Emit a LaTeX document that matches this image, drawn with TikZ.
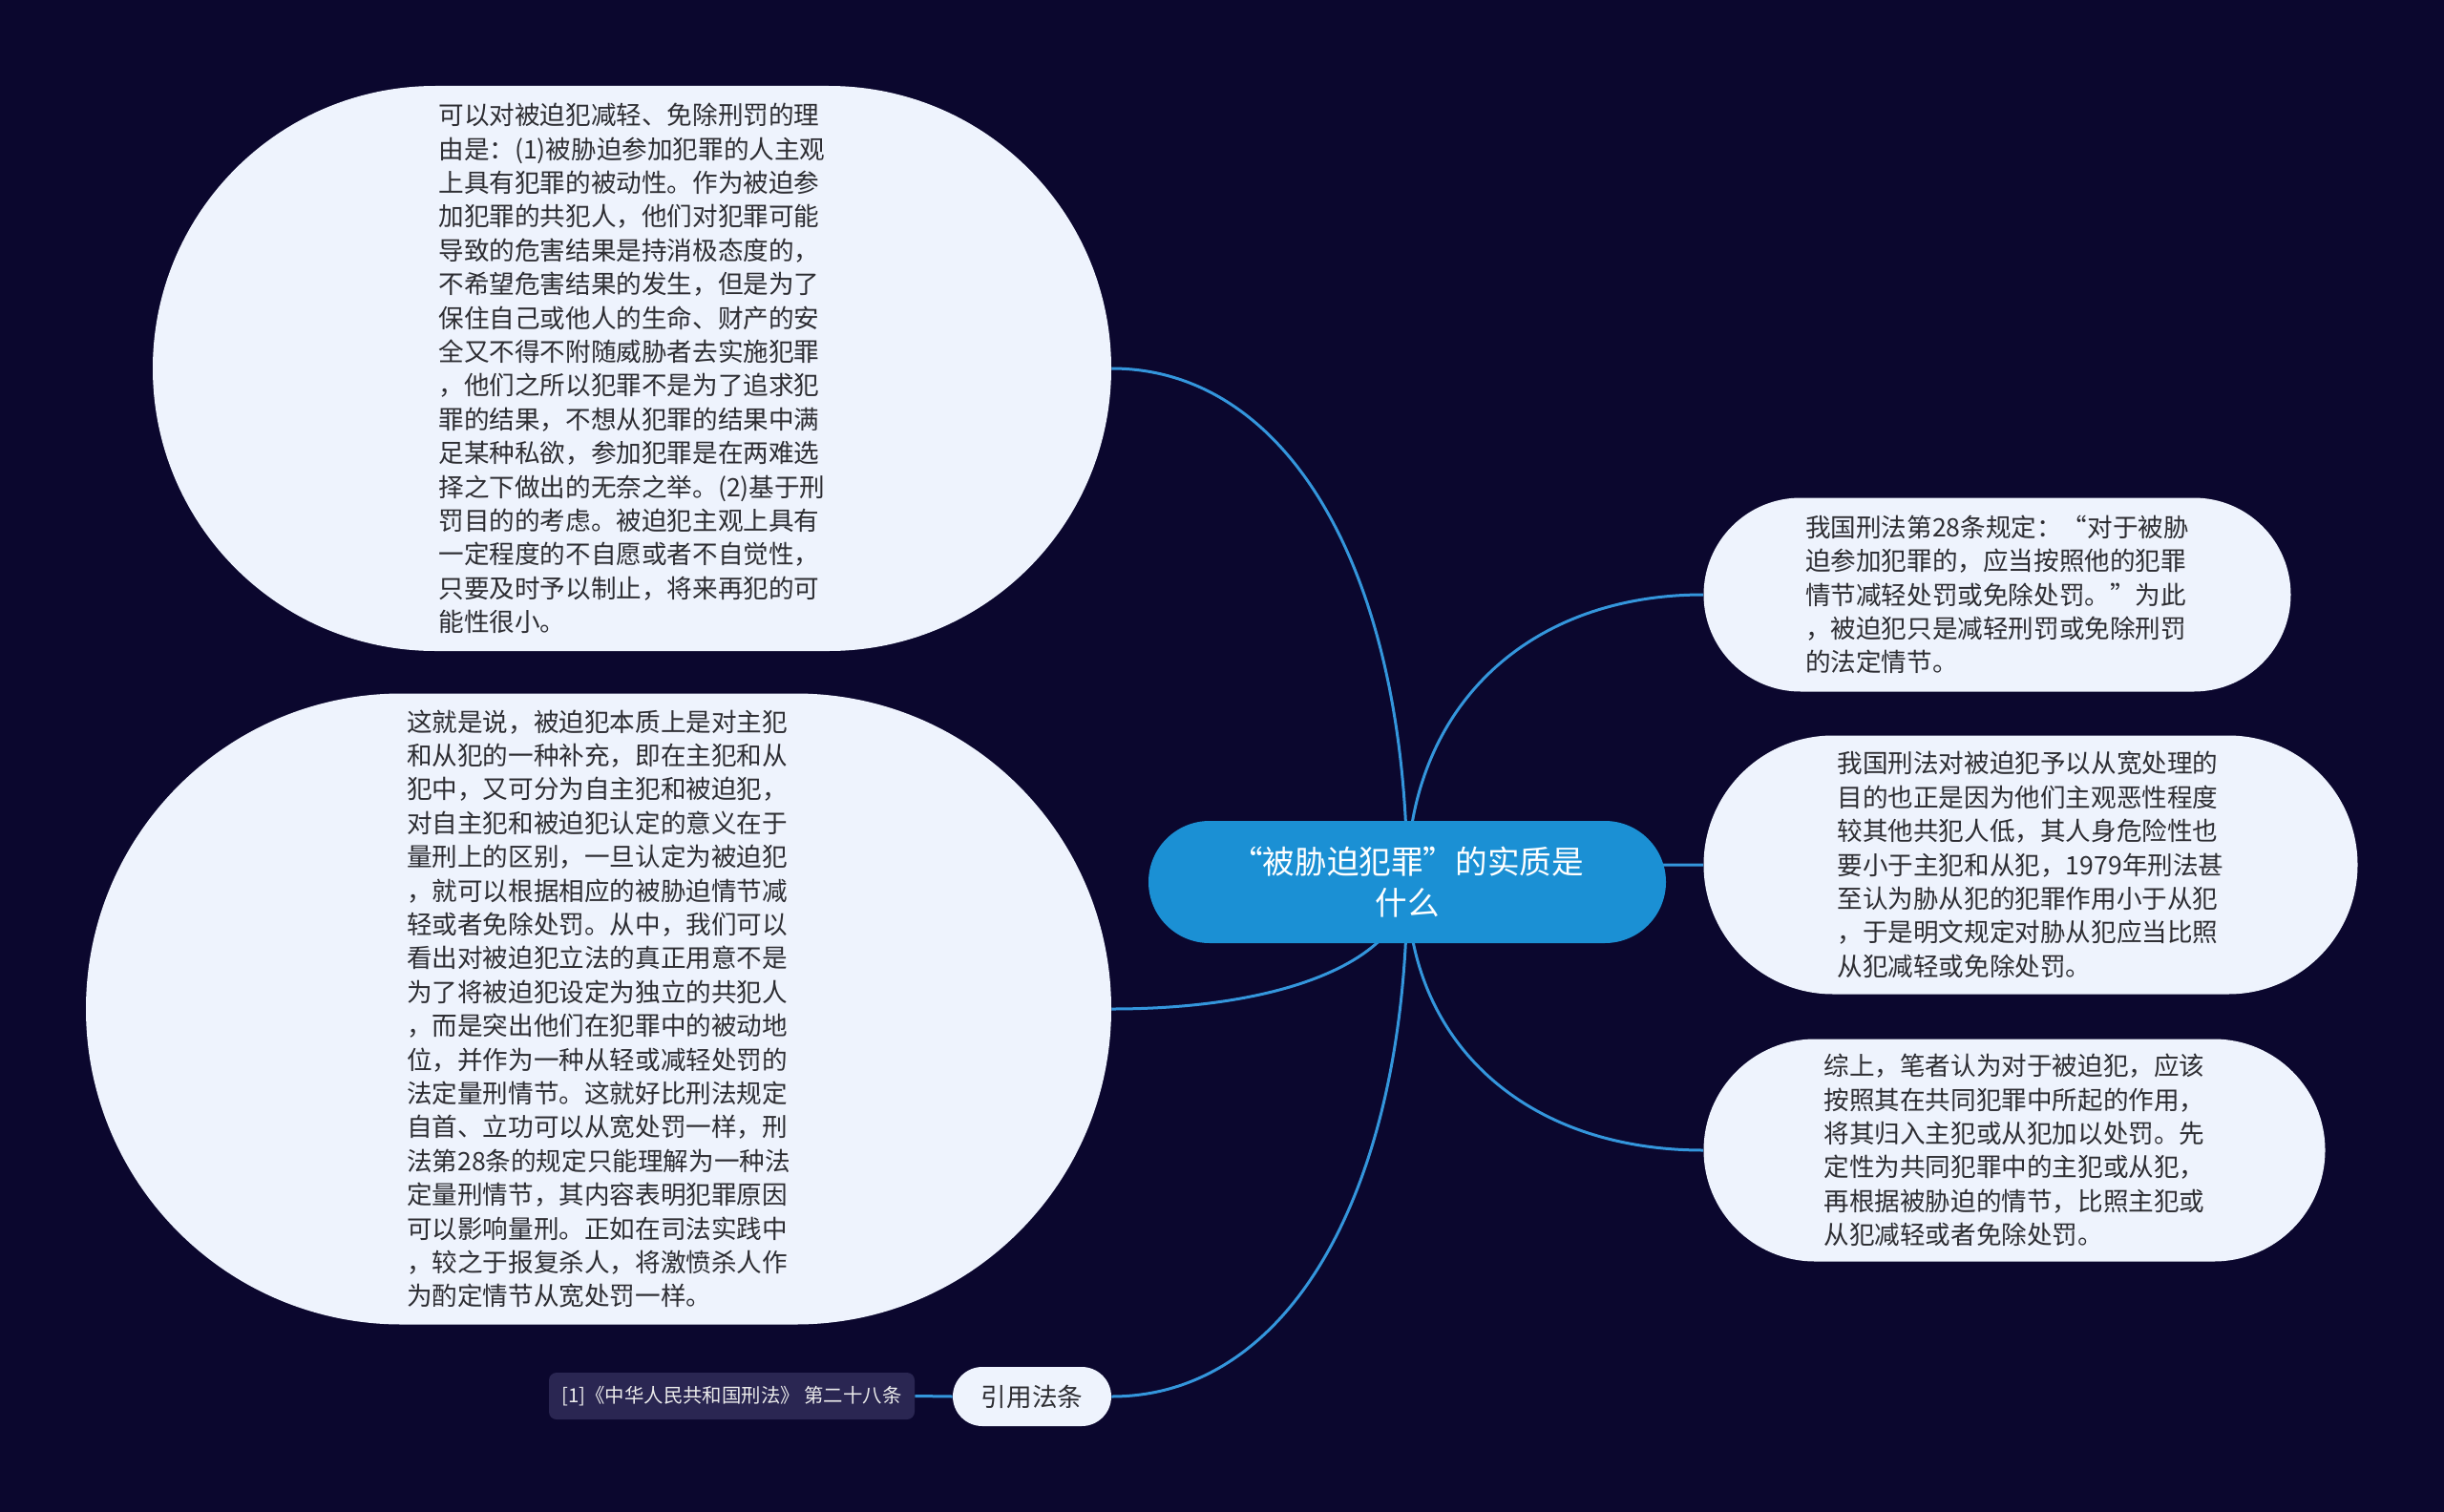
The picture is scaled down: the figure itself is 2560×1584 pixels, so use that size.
\documentclass[tikz,border=0pt]{standalone}
\usepackage{fontspec}
\setmainfont{Noto Sans CJK SC}
\usetikzlibrary{shapes.misc,calc}
\definecolor{bgc}{RGB}{11,7,46}
\definecolor{nodefill}{RGB}{238,243,253}
\definecolor{rootfill}{RGB}{27,144,212}
\definecolor{edgec}{RGB}{52,150,220}
\definecolor{txtc}{RGB}{45,45,50}
\definecolor{reffill}{RGB}{42,38,82}
\pgfdeclarelayer{back}
\pgfdeclarelayer{bg}
\pgfsetlayers{back,bg,main}
\begin{document}
\begin{tikzpicture}[x=0.5pt,y=-0.5pt,
  topic/.style={rounded rectangle, fill=nodefill, text=txtc, align=left, inner sep=0pt,
    font=\fontsize{13.3}{17.7}\selectfont},
  roottopic/.style={rounded rectangle, fill=rootfill, text=white, align=center, inner sep=0pt,
    font=\fontsize{16.8}{21.5}\selectfont},
  reftag/.style={rectangle, rounded corners=4pt, fill=reffill, text=white!92!black, inner sep=0pt,
    font=\fontsize{10.2}{12}\selectfont},
  edge/.style={draw=edgec, line width=1.5pt}
]
\begin{pgfonlayer}{back}
\fill[bgc] (0,0) rectangle (2560,1584);
\end{pgfonlayer}
\useasboundingbox (0,0) rectangle (2560,1584);

\node[roottopic, minimum width=271pt, minimum height=64pt] (root) at (1474,924)
  {“被胁迫犯罪”的实质是\\什么};

\node[topic, minimum width=502pt, minimum height=296pt] (n1) at (662,386)
  {可以对被迫犯减轻、免除刑罚的理\\
   由是：(1)被胁迫参加犯罪的人主观\\
   上具有犯罪的被动性。作为被迫参\\
   加犯罪的共犯人，他们对犯罪可能\\
   导致的危害结果是持消极态度的，\\
   不希望危害结果的发生，但是为了\\
   保住自己或他人的生命、财产的安\\
   全又不得不附随威胁者去实施犯罪\\
   ，他们之所以犯罪不是为了追求犯\\
   罪的结果，不想从犯罪的结果中满\\
   足某种私欲，参加犯罪是在两难选\\
   择之下做出的无奈之举。(2)基于刑\\
   罚目的的考虑。被迫犯主观上具有\\
   一定程度的不自愿或者不自觉性，\\
   只要及时予以制止，将来再犯的可\\
   能性很小。};

\node[topic, minimum width=537pt, minimum height=330.5pt] (n2) at (627,1057)
  {这就是说，被迫犯本质上是对主犯\\
   和从犯的一种补充，即在主犯和从\\
   犯中，又可分为自主犯和被迫犯，\\
   对自主犯和被迫犯认定的意义在于\\
   量刑上的区别，一旦认定为被迫犯\\
   ，就可以根据相应的被胁迫情节减\\
   轻或者免除处罚。从中，我们可以\\
   看出对被迫犯立法的真正用意不是\\
   为了将被迫犯设定为独立的共犯人\\
   ，而是突出他们在犯罪中的被动地\\
   位，并作为一种从轻或减轻处罚的\\
   法定量刑情节。这就好比刑法规定\\
   自首、立功可以从宽处罚一样，刑\\
   法第28条的规定只能理解为一种法\\
   定量刑情节，其内容表明犯罪原因\\
   可以影响量刑。正如在司法实践中\\
   ，较之于报复杀人，将激愤杀人作\\
   为酌定情节从宽处罚一样。};

\node[topic, minimum width=307.5pt, minimum height=101.5pt] (r1) at (2092,623)
  {我国刑法第28条规定：“对于被胁\\
   迫参加犯罪的，应当按照他的犯罪\\
   情节减轻处罚或免除处罚。”为此\\
   ，被迫犯只是减轻刑罚或免除刑罚\\
   的法定情节。};

\node[topic, minimum width=342.5pt, minimum height=135.5pt] (r2) at (2127,906)
  {我国刑法对被迫犯予以从宽处理的\\
   目的也正是因为他们主观恶性程度\\
   较其他共犯人低，其人身危险性也\\
   要小于主犯和从犯，1979年刑法甚\\
   至认为胁从犯的犯罪作用小于从犯\\
   ，于是明文规定对胁从犯应当比照\\
   从犯减轻或免除处罚。};

\node[topic, minimum width=325.5pt, minimum height=116.5pt] (r3) at (2110,1205)
  {综上，笔者认为对于被迫犯，应该\\
   按照其在共同犯罪中所起的作用，\\
   将其归入主犯或从犯加以处罚。先\\
   定性为共同犯罪中的主犯或从犯，\\
   再根据被胁迫的情节，比照主犯或\\
   从犯减轻或者免除处罚。};

\node[topic, minimum width=83pt, minimum height=31pt] (cite) at (1081,1463) {引用法条};

\node[reftag, minimum width=191.5pt, minimum height=24.5pt] (ref) at (766.5,1462.5)
  {[1]《中华人民共和国刑法》 第二十八条};

\begin{pgfonlayer}{bg}
  \foreach \c/\a in {n1/east, n2/east, cite/east, r1/west, r2/west, r3/west} {
    \draw[edge] (root.center)
      .. controls ($(root.center)!0.6!(root.center |- \c.\a)$)
              and ($(\c.\a)!0.6!(root.center |- \c.\a)$) .. (\c.\a);
  }
  \draw[edge] (cite.west) -- (ref.east);
\end{pgfonlayer}
\end{tikzpicture}
\end{document}
